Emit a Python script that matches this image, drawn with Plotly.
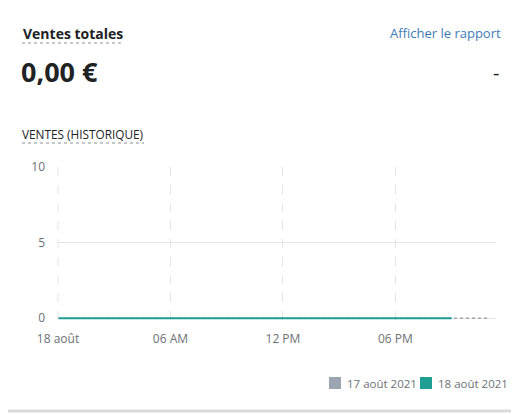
import plotly.graph_objects as go

# hourly sales (EUR) for the current day and the comparison day
hours_current = list(range(0, 22))
sales_current = [0] * len(hours_current)
hours_previous = list(range(0, 24))
sales_previous = [0] * len(hours_previous)

day_current = '2021-08-18'
tick_hours = [0, 6, 12, 18]
tick_labels = ['18 août', '06 AM', '12 PM', '06 PM']
legend_labels = ['17 août 2021', '18 août 2021']

TEAL = '#1f9e94'
GREY = '#9aa5b1'
TEXT = '#202223'
SUB = '#6d7175'
FONT = 'Open Sans, Noto Sans, sans-serif'

# the page body adds an 8px margin, so work in page pixels minus 8
OFF = 8
W, H = 519 - OFF, 414 - OFF
L, R, T, B = 58 - OFF, 519 - 496, 167 - OFF, 414 - 320


def ts(h):
    return '%s %02d:%02d:00' % (day_current, int(h), int(round((h % 1) * 60)))


def px(x):
    return (x - OFF - L) / (W - L - R)


def py(y):
    return (H - B - (y - OFF)) / (H - T - B)


fig = go.Figure()

fig.add_trace(go.Scatter(
    x=[ts(h) for h in hours_previous], y=sales_previous,
    mode='lines', line=dict(color=GREY, width=1.5, dash='dot'),
    showlegend=False, hoverinfo='skip'))

fig.add_trace(go.Scatter(
    x=[ts(h) for h in hours_current], y=sales_current,
    mode='lines', line=dict(color=TEAL, width=2),
    fill='tozeroy', fillcolor='rgba(71,193,191,0.12)',
    showlegend=False))

annotations = [
    dict(text='<b>Ventes totales</b>', x=px(21), y=py(33), xanchor='left',
         yanchor='middle', font=dict(size=14, color=TEXT)),
    dict(text='Afficher le rapport', x=px(503), y=py(33), xanchor='right',
         yanchor='middle', font=dict(size=13, color='#3e7bb6')),
    dict(text='<b>0,00 €</b>', x=px(19), y=py(71), xanchor='left',
         yanchor='middle', font=dict(size=27, color=TEXT)),
    dict(text='-', x=px(501), y=py(72), xanchor='right',
         yanchor='middle', font=dict(size=20, color=TEXT)),
    dict(text='VENTES (HISTORIQUE)', x=px(20), y=py(134), xanchor='left',
         yanchor='middle', font=dict(size=11.8, color=TEXT)),
]

shapes = [
    # dotted underlines
    dict(type='line', xref='paper', yref='paper', x0=px(22), x1=px(123),
         y0=py(43), y1=py(43), line=dict(color='#8c9196', width=1, dash='dot')),
    dict(type='line', xref='paper', yref='paper', x0=px(22), x1=px(144),
         y0=py(143), y1=py(143), line=dict(color='#8c9196', width=1, dash='dot')),
    # left dashed edge of the plot
    dict(type='line', xref='paper', yref='paper', x0=0, x1=0, y0=0, y1=1,
         line=dict(color='#e4e5e7', width=1, dash='dash')),
    # card bottom border
    dict(type='line', xref='paper', yref='paper', x0=px(8), x1=px(519),
         y0=py(411), y1=py(411), line=dict(color='#dcdcdc', width=3)),
]

# legend drawn as squares + labels
legend_x = [329, 420]
for name, color, lx in zip(legend_labels, [GREY, TEAL], legend_x):
    shapes.append(dict(type='rect', xref='paper', yref='paper',
                       x0=px(lx), x1=px(lx + 12), y0=py(377), y1=py(389),
                       fillcolor=color, line=dict(width=0)))
    annotations.append(dict(text=name, x=px(lx + 16), y=py(383),
                            xanchor='left', yanchor='middle',
                            font=dict(size=11.5, color=SUB)))

for a in annotations:
    a.update(xref='paper', yref='paper', showarrow=False)

fig.update_layout(
    width=W, height=H,
    margin=dict(l=L, r=R, t=T, b=B),
    paper_bgcolor='white', plot_bgcolor='white',
    font=dict(family=FONT, size=12, color=SUB),
    annotations=annotations, shapes=shapes,
    showlegend=False,
    xaxis=dict(
        range=[ts(0), ts(23.36)], tickvals=[ts(h) for h in tick_hours],
        ticktext=tick_labels, showgrid=True, gridcolor='#e4e5e7',
        griddash='dash', zeroline=False, showline=False, ticks='',
        ticklabelstandoff=10,
        tickfont=dict(size=12, color=SUB), fixedrange=True),
    yaxis=dict(
        range=[-0.12, 10], tickvals=[0, 5, 10], showgrid=True,
        gridcolor='#e4e5e7', zeroline=False, showline=False, ticks='',
        ticklabelstandoff=12, tickfont=dict(size=12, color=SUB),
        fixedrange=True),
)

fig.write_html('out.html')
